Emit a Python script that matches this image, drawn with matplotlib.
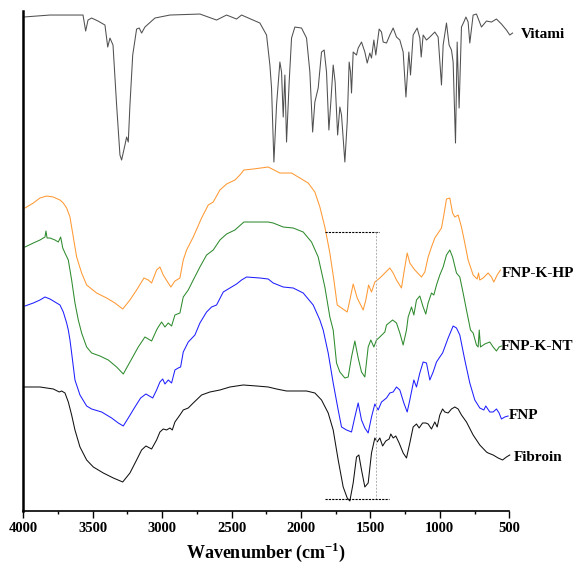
import matplotlib.pyplot as plt
from matplotlib.ticker import MultipleLocator

plt.rcParams['font.family'] = ['Liberation Serif', 'DejaVu Serif']
plt.rcParams['font.weight'] = 'bold'
plt.rcParams['mathtext.fontset'] = 'custom'
plt.rcParams['mathtext.rm'] = 'Liberation Serif:bold'
plt.rcParams['mathtext.bf'] = 'Liberation Serif:bold'

# FTIR spectra, stacked with offsets (arbitrary units)
vit_wn = [4000, 3808, 3570, 3551, 3534, 3508, 3462, 3412, 3392, 3376, 3354, 3328, 3304, 3292,
          3268, 3256, 3244, 3232, 3212, 3184, 3165, 3148, 3124, 3052, 2944, 2728, 2608, 2536,
          2464, 2428, 2296, 2248, 2224, 2212, 2195, 2176, 2152, 2140, 2128, 2116, 2104, 2085,
          2068, 2044, 1996, 1960, 1936, 1916, 1900, 1876, 1852, 1833, 1816, 1799, 1785, 1768,
          1754, 1736, 1720, 1708, 1684, 1667, 1653, 1643, 1636, 1624, 1600, 1588, 1564, 1540,
          1523, 1504, 1492, 1475, 1461, 1437, 1420, 1408, 1384, 1360, 1336, 1312, 1288, 1264,
          1244, 1223, 1211, 1192, 1163, 1144, 1134, 1120, 1096, 1072, 1036, 1012, 988, 976,
          952, 933, 916, 904, 887, 875, 861, 844, 827, 812, 796, 784, 760, 736, 700, 664,
          628, 592, 556, 520, 496, 476]
vit_t = [494, 496, 496, 480, 491, 493, 490, 486, 464, 473, 466, 406, 356, 351,
         366, 374, 369, 406, 456, 482, 483, 478, 484, 493, 496, 497, 491, 496,
         492, 496, 488, 476, 446, 423, 349, 406, 449, 439, 394, 436, 369, 429,
         473, 484, 483, 473, 439, 379, 409, 423, 459, 461, 439, 381, 409, 446,
         429, 376, 404, 396, 349, 389, 449, 439, 418, 459, 456, 463, 469, 459,
         448, 458, 453, 471, 456, 482, 479, 469, 468, 476, 483, 474, 471, 459,
         414, 459, 436, 476, 483, 473, 454, 476, 471, 474, 479, 474, 426, 466,
         488, 466, 461, 449, 368, 469, 403, 484, 489, 494, 489, 468, 496, 497, 484, 490,
         489, 492, 487, 481, 476, 478]

hp_wn = [3988, 3928, 3880, 3832, 3784, 3736, 3712, 3688, 3664, 3640, 3616, 3580, 3544, 3472,
         3400, 3340, 3284, 3232, 3184, 3131, 3100, 3076, 3040, 3016, 2992, 2956, 2937, 2908,
         2872, 2848, 2824, 2776, 2716, 2668, 2632, 2584, 2536, 2476, 2440, 2412, 2344, 2236,
         2152, 2068, 2008, 1948, 1900, 1864, 1828, 1792, 1763, 1739, 1708, 1667, 1648, 1624,
         1595, 1552, 1533, 1513, 1492, 1468, 1432, 1396, 1360, 1336, 1312, 1276, 1259, 1235,
         1216, 1180, 1132, 1108, 1084, 1060, 1036, 1012, 988, 971, 952, 928, 908, 892,
         868, 844, 820, 796, 760, 731, 721, 712, 688, 652, 628, 611, 587, 563]
hp_t = [303, 308, 313, 315, 314, 311, 308, 303, 294, 274, 254, 238, 226, 218,
        213, 208, 202, 211, 221, 233, 231, 228, 241, 244, 236, 228, 224, 230,
        233, 251, 261, 274, 293, 306, 309, 321, 327, 331, 336, 341, 342, 344,
        338, 338, 333, 328, 319, 304, 284, 258, 231, 206, 203, 199, 211, 227,
        213, 201, 211, 226, 219, 229, 233, 238, 243, 238, 231, 223, 238, 258,
        248, 241, 234, 239, 254, 264, 273, 278, 283, 296, 312, 313, 298, 294,
        296, 284, 268, 251, 236, 232, 238, 231, 233, 238, 234, 229, 236, 241]

nt_wn = [3988, 3928, 3880, 3844, 3837, 3829, 3808, 3772, 3748, 3731, 3716, 3700, 3676, 3652,
         3628, 3604, 3580, 3544, 3508, 3448, 3388, 3328, 3280, 3232, 3172, 3124, 3076, 3040,
         3028, 3004, 2980, 2956, 2932, 2908, 2872, 2848, 2812, 2776, 2728, 2680, 2632, 2584,
         2536, 2476, 2411, 2344, 2236, 2200, 2128, 2056, 1984, 1924, 1876, 1828, 1792, 1768,
         1744, 1720, 1684, 1660, 1636, 1612, 1588, 1564, 1540, 1516, 1497, 1475, 1456, 1432,
         1396, 1384, 1340, 1312, 1288, 1264, 1240, 1228, 1204, 1187, 1168, 1144, 1120, 1101,
         1084, 1060, 1043, 1024, 1000, 976, 952, 928, 908, 880, 856, 832, 808, 779,
         760, 736, 724, 716, 707, 676, 640, 616, 592, 573, 556]
nt_t = [264, 268, 271, 274, 280, 273, 273, 271, 269, 274, 263, 258, 251, 231,
        208, 191, 178, 164, 158, 155, 151, 144, 137, 149, 164, 174, 170, 181,
        184, 189, 184, 188, 185, 196, 198, 214, 221, 231, 244, 256, 261, 271,
        277, 281, 289, 289, 289, 288, 284, 283, 279, 269, 254, 224, 194, 181,
        148, 139, 133, 134, 154, 170, 153, 139, 134, 164, 171, 164, 171, 174,
        179, 186, 191, 188, 178, 166, 181, 194, 204, 196, 211, 215, 204, 197,
        208, 218, 216, 226, 236, 244, 256, 261, 254, 238, 234, 218, 201, 181,
        178, 166, 164, 181, 164, 167, 169, 164, 160, 164, 165]

fnp_wn = [3988, 3928, 3880, 3844, 3808, 3760, 3736, 3712, 3688, 3676, 3664, 3652, 3628, 3592,
          3544, 3508, 3436, 3364, 3316, 3280, 3244, 3196, 3155, 3117, 3068, 3040, 3016, 2996,
          2980, 2956, 2932, 2908, 2884, 2867, 2848, 2812, 2764, 2728, 2680, 2644, 2608, 2560,
          2512, 2464, 2428, 2392, 2296, 2236, 2200, 2128, 2056, 1984, 1912, 1864, 1840, 1804,
          1768, 1732, 1708, 1672, 1636, 1612, 1588, 1564, 1540, 1516, 1492, 1468, 1444, 1420,
          1384, 1360, 1336, 1312, 1288, 1259, 1235, 1216, 1187, 1168, 1144, 1120, 1096, 1072,
          1048, 1024, 1000, 980, 964, 940, 916, 904, 880, 856, 820, 784, 748, 712,
          683, 669, 640, 616, 592, 573, 556, 532, 508]
fnp_t = [205, 208, 211, 214, 212, 208, 206, 199, 188, 181, 171, 158, 131, 116,
         105, 102, 99, 93, 88, 85, 93, 104, 113, 117, 113, 121, 129, 132,
         127, 131, 128, 141, 143, 144, 159, 169, 176, 188, 199, 204, 206, 219,
         223, 227, 231, 234, 233, 232, 228, 224, 223, 218, 206, 191, 181, 158,
         128, 101, 84, 81, 79, 94, 108, 91, 83, 78, 94, 107, 101, 109,
         113, 118, 119, 124, 121, 108, 99, 111, 131, 124, 138, 149, 148, 131,
         139, 149, 154, 158, 164, 173, 181, 185, 183, 176, 151, 128, 111, 103,
         101, 105, 99, 99, 102, 98, 92, 94, 95]

fib_wn = [4000, 3880, 3784, 3741, 3724, 3700, 3676, 3652, 3628, 3592, 3544, 3496, 3424, 3352,
          3284, 3232, 3184, 3148, 3117, 3076, 3040, 3016, 2992, 2968, 2944, 2927, 2908, 2872,
          2848, 2812, 2776, 2716, 2656, 2584, 2512, 2416, 2320, 2236, 2176, 2104, 1960, 1900,
          1852, 1804, 1768, 1732, 1696, 1667, 1648, 1624, 1600, 1583, 1564, 1540, 1516, 1492,
          1468, 1451, 1432, 1412, 1389, 1365, 1353, 1336, 1317, 1293, 1264, 1240, 1216, 1192,
          1168, 1149, 1124, 1101, 1084, 1060, 1036, 1019, 1000, 980, 964, 940, 916, 892,
          868, 844, 808, 760, 712, 664, 652, 616, 580, 548, 520, 496]
fib_t = [124, 124, 122, 119, 120, 118, 109, 96, 81, 64, 51, 44, 38, 33,
         29, 38, 51, 61, 65, 62, 71, 79, 82, 81, 83, 81, 89, 96,
         101, 103, 108, 116, 119, 121, 124, 126, 125, 124, 122, 120, 120, 118,
         111, 98, 81, 51, 24, 13, 10, 28, 54, 56, 41, 24, 28, 58,
         73, 69, 73, 65, 70, 72, 77, 73, 75, 68, 58, 53, 68, 84,
         87, 83, 88, 88, 87, 82, 89, 84, 96, 102, 99, 98, 102, 104,
         102, 96, 89, 76, 66, 59, 58, 56, 53, 51, 54, 56]

series = [
    (vit_wn, vit_t, '#505050', 'Vitami', 416, 477),
    (hp_wn, hp_t, '#ff9933', 'FNP-K-HP', 557, 238),
    (nt_wn, nt_t, '#2e8b2e', 'FNP-K-NT', 560, 164),
    (fnp_wn, fnp_t, '#1f1fff', 'FNP', 501, 95),
    (fib_wn, fib_t, '#111111', 'Fibroin', 467, 53),
]

fig = plt.figure(figsize=(5.73, 5.63), dpi=100)
ax = fig.add_axes([0.0407, 0.0924, 0.848, 0.888])

for wn, t, color, name, lx, ly in series:
    ax.plot(wn, t, color=color, linewidth=0.75, clip_on=False)
    ax.text(lx, ly, name, fontsize=11, fontweight='bold', va='center', ha='left',
            clip_on=False)

# guide lines around the amide region
ax.plot([1828, 1439], [279, 279], color='black', linestyle=(0, (2, 1)), linewidth=0.8)
ax.plot([1461, 1461], [279, 12], color='#b0b0b0', linestyle=(0, (2, 1.5)), linewidth=0.7)
ax.plot([1828, 1365], [12, 12], color='black', linestyle=(0, (2, 1)), linewidth=0.8)

ax.set_xlim(4000, 500)
ax.set_ylim(0, 500)
ax.set_yticks([])
ax.xaxis.set_major_locator(MultipleLocator(500))
ax.xaxis.set_minor_locator(MultipleLocator(250))
ax.tick_params(axis='x', which='major', direction='out', length=5, width=1, labelsize=10.5, pad=3)
ax.tick_params(axis='x', which='minor', direction='out', length=2.5, width=1)
for lab in ax.get_xticklabels():
    lab.set_fontweight('bold')

ax.spines['top'].set_visible(False)
ax.spines['right'].set_visible(False)
ax.spines['left'].set_linewidth(1.8)
ax.spines['bottom'].set_linewidth(1.2)

ax.set_xlabel(r'Wavenumber (cm$^{\mathbf{-1}}$)', fontsize=13, fontweight='bold', labelpad=4)

fig.savefig('out.png', dpi=100)
